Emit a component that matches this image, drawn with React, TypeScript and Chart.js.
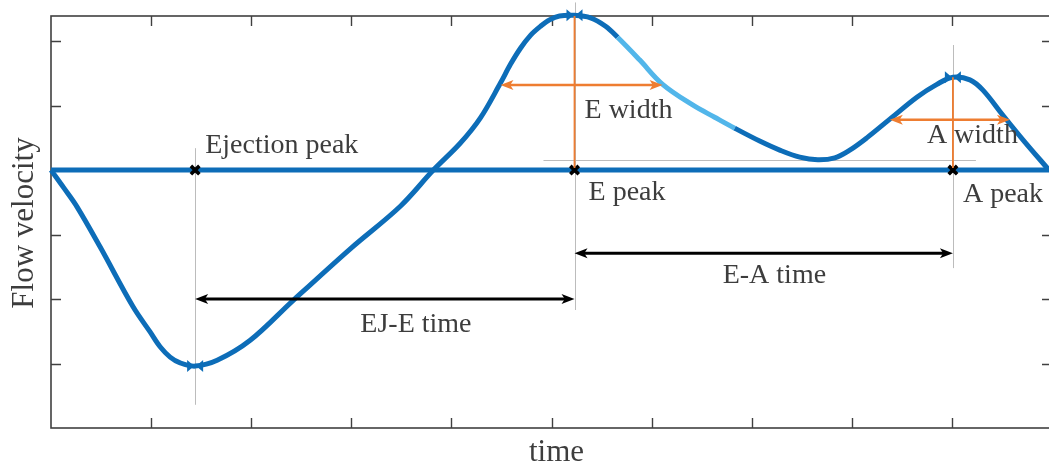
import React, { useEffect, useRef } from "react";
import { Chart, registerables } from "chart.js";

Chart.register(...registerables);

// ---- data (time in arbitrary units, flow velocity in arbitrary units) ----
const timeValues = [
  0, 0.13, 0.26, 0.49, 0.82, 0.99, 1.09, 1.19, 1.29, 1.44, 1.66, 1.99, 2.42, 2.99, 3.49, 3.82,
  4.09, 4.29, 4.49, 4.59, 4.69, 4.79, 4.89, 4.98, 5.08, 5.23, 5.39, 5.54, 5.66, 5.88, 6.11,
  6.41, 6.63, 6.83, 7.08, 7.28, 7.48, 7.66, 7.83, 7.98, 8.15, 8.38, 8.65, 8.85, 9.01, 9.18,
  9.31, 9.51, 9.71, 9.97,
];
const flowValues = [
  0, -0.28, -0.57, -1.19, -2.12, -2.51, -2.74, -2.9, -2.99, -3.04, -2.95, -2.64, -2.02, -1.22, -0.56, 0,
  0.42, 0.81, 1.35, 1.64, 1.89, 2.09, 2.23, 2.33, 2.39, 2.4, 2.36, 2.23, 2.06, 1.71, 1.33,
  1.01, 0.82, 0.65, 0.45, 0.31, 0.2, 0.16, 0.19, 0.31, 0.5, 0.79, 1.13, 1.33, 1.44, 1.4,
  1.24, 0.85, 0.47, 0,
];
const highlightRange = [5.66, 6.83];

const eventTimes = [1.44, 5.23, 9.01]; // ejection peak, E peak, A peak
const peakValues = [-3.04, 2.4, 1.44];

const xTicks = [1, 2, 3, 4, 5, 6, 7, 8, 9];
const yTicks = [-3, -2, -1, 0, 1, 2];

const eWidthSpan = [4.49, 6.11];
const eWidthLevel = 1.32;
const aWidthSpan = [8.38, 9.58];
const aWidthLevel = 0.78;
const ejeLevel = -2.0;
const eaLevel = -1.29;

const grayVTop = [0.34, 2.6, 1.94];
const grayVBottom = [-3.64, -2.17, -1.52];
const grayHLevel = 0.15;
const grayHSpan = [4.92, 9.24];

const labelTexts = ["Ejection peak", "E peak", "A peak", "E width", "A width", "EJ-E time", "E-A time"];
const labelX = [1.54, 5.37, 9.11, 5.33, 8.75, 3.09, 6.71];
const labelY = [0.26, -0.47, -0.5, 0.81, 0.42, -2.51, -1.75];

// ---- styles ----
const BLUE = "#0d6db8";
const LIGHT_BLUE = "#52b6ea";
const ORANGE = "#ee7d31";
const TEXT = "#3d3d3d";
const AXIS = "#404040";
const FONT = "'Liberation Serif', 'Times New Roman', serif";

function drawArrow(ctx: CanvasRenderingContext2D, x0: number, x1: number, y: number, color: string, lw: number, hl: number, hh: number) {
  ctx.save();
  ctx.strokeStyle = color;
  ctx.fillStyle = color;
  ctx.lineWidth = lw;
  ctx.beginPath();
  ctx.moveTo(x0 + hl * 0.7, y);
  ctx.lineTo(x1 - hl * 0.7, y);
  ctx.stroke();
  ctx.beginPath();
  ctx.moveTo(x0, y);
  ctx.lineTo(x0 + hl, y - hh);
  ctx.lineTo(x0 + hl * 0.75, y);
  ctx.lineTo(x0 + hl, y + hh);
  ctx.closePath();
  ctx.fill();
  ctx.beginPath();
  ctx.moveTo(x1, y);
  ctx.lineTo(x1 - hl, y - hh);
  ctx.lineTo(x1 - hl * 0.75, y);
  ctx.lineTo(x1 - hl, y + hh);
  ctx.closePath();
  ctx.fill();
  ctx.restore();
}

const annotationPlugin = {
  id: "annotations",
  beforeDatasetsDraw(chart: any) {
    const { ctx, chartArea: ca, scales } = chart;
    const xs = scales.x;
    const ys = scales.y;
    ctx.save();
    // frame
    ctx.strokeStyle = AXIS;
    ctx.lineWidth = 1.6;
    ctx.strokeRect(ca.left, ca.top, ca.right - ca.left, ca.bottom - ca.top);
    // inward ticks
    ctx.lineWidth = 1.4;
    ctx.beginPath();
    xTicks.forEach((t) => {
      const px = Math.round(xs.getPixelForValue(t)) + 0.5;
      ctx.moveTo(px, ca.bottom);
      ctx.lineTo(px, ca.bottom - 10);
      ctx.moveTo(px, ca.top);
      ctx.lineTo(px, ca.top + 10);
    });
    yTicks.forEach((t) => {
      const py = Math.round(ys.getPixelForValue(t)) + 0.5;
      ctx.moveTo(ca.left, py);
      ctx.lineTo(ca.left + 10, py);
      ctx.moveTo(ca.right, py);
      ctx.lineTo(ca.right - 10, py);
    });
    ctx.stroke();
    // gray guide lines
    ctx.strokeStyle = "#bcbcbc";
    ctx.lineWidth = 1;
    ctx.beginPath();
    eventTimes.forEach((t, i) => {
      const px = Math.round(xs.getPixelForValue(t)) + 0.5;
      ctx.moveTo(px, ys.getPixelForValue(grayVTop[i]));
      ctx.lineTo(px, ys.getPixelForValue(grayVBottom[i]));
    });
    const hy = Math.round(ys.getPixelForValue(grayHLevel)) + 0.5;
    ctx.moveTo(xs.getPixelForValue(grayHSpan[0]), hy);
    ctx.lineTo(xs.getPixelForValue(grayHSpan[1]), hy);
    ctx.stroke();
    ctx.restore();
  },
  afterDatasetsDraw(chart: any) {
    const { ctx, chartArea: ca, scales } = chart;
    const xs = scales.x;
    const ys = scales.y;
    ctx.save();
    // orange verticals from E and A peaks to baseline
    ctx.strokeStyle = ORANGE;
    ctx.lineWidth = 1.8;
    ctx.beginPath();
    [1, 2].forEach((i) => {
      const px = xs.getPixelForValue(eventTimes[i]);
      ctx.moveTo(px, Math.max(ys.getPixelForValue(peakValues[i]), ca.top));
      ctx.lineTo(px, ys.getPixelForValue(0) - 2);
    });
    ctx.stroke();
    // peak markers (blue bow ties)
    ctx.fillStyle = BLUE;
    eventTimes.forEach((t, i) => {
      const px = xs.getPixelForValue(t);
      const py = ys.getPixelForValue(peakValues[i]);
      ctx.beginPath();
      ctx.moveTo(px - 1, py);
      ctx.lineTo(px - 8, py - 6);
      ctx.lineTo(px - 8, py + 6);
      ctx.closePath();
      ctx.fill();
      ctx.beginPath();
      ctx.moveTo(px + 1, py);
      ctx.lineTo(px + 8, py - 6);
      ctx.lineTo(px + 8, py + 6);
      ctx.closePath();
      ctx.fill();
    });
    // width arrows
    drawArrow(ctx, xs.getPixelForValue(eWidthSpan[0]), xs.getPixelForValue(eWidthSpan[1]), ys.getPixelForValue(eWidthLevel), ORANGE, 2.4, 13, 5);
    drawArrow(ctx, xs.getPixelForValue(aWidthSpan[0]), xs.getPixelForValue(aWidthSpan[1]), ys.getPixelForValue(aWidthLevel), ORANGE, 2.4, 13, 5);
    // time arrows
    drawArrow(ctx, xs.getPixelForValue(eventTimes[0]), xs.getPixelForValue(eventTimes[1]), ys.getPixelForValue(ejeLevel), "#000", 3, 13, 5);
    drawArrow(ctx, xs.getPixelForValue(eventTimes[1]), xs.getPixelForValue(eventTimes[2]), ys.getPixelForValue(eaLevel), "#000", 3, 13, 5);
    // labels
    ctx.fillStyle = TEXT;
    ctx.font = `28px ${FONT}`;
    ctx.textAlign = "left";
    ctx.textBaseline = "alphabetic";
    labelTexts.forEach((s, i) => {
      ctx.fillText(s, xs.getPixelForValue(labelX[i]), ys.getPixelForValue(labelY[i]));
    });
    // axis titles
    ctx.font = `31px ${FONT}`;
    ctx.textAlign = "center";
    ctx.fillText("time", (ca.left + ca.right) / 2 + 5, ca.bottom + 33);
    ctx.save();
    ctx.translate(ca.left - 18, (ca.top + ca.bottom) / 2 + 1);
    ctx.rotate(-Math.PI / 2);
    ctx.fillText("Flow velocity", 0, 0);
    ctx.restore();
    ctx.restore();
  },
};

export default function App() {
  const ref = useRef<HTMLCanvasElement | null>(null);

  useEffect(() => {
    if (!ref.current) return;
    const curve = timeValues.map((t, i) => ({ x: t, y: flowValues[i] }));
    const baseline = [
      { x: 0, y: 0 },
      { x: timeValues[timeValues.length - 1], y: 0 },
    ];
    const crosses = eventTimes.map((t) => ({ x: t, y: 0 }));
    const chart = new Chart(ref.current, {
      type: "line",
      data: {
        datasets: [
          {
            label: "events",
            data: crosses,
            showLine: false,
            pointStyle: "crossRot",
            pointRadius: 6,
            pointBorderWidth: 3.6,
            borderColor: "#000",
            backgroundColor: "#000",
            order: 0,
          },
          {
            label: "flow",
            data: curve,
            borderColor: BLUE,
            borderWidth: 5,
            pointRadius: 0,
            tension: 0.35,
            clip: false as any,
            segment: {
              borderColor: (c: any) =>
                c.p0.parsed.x >= highlightRange[0] - 1e-6 && c.p1.parsed.x <= highlightRange[1] + 1e-6
                  ? LIGHT_BLUE
                  : undefined,
            },
            order: 1,
          },
          {
            label: "baseline",
            data: baseline,
            borderColor: BLUE,
            borderWidth: 5,
            pointRadius: 0,
            order: 2,
          },
        ],
      },
      options: {
        responsive: false,
        animation: false,
        devicePixelRatio: 1,
        layout: { autoPadding: false, padding: { left: 51, top: 16, right: 1, bottom: 38 } },
        plugins: { legend: { display: false }, tooltip: { enabled: false } },
        scales: {
          x: { type: "linear", min: 0, max: 10, display: false },
          y: { type: "linear", min: -4, max: 2.39, display: false },
        },
      },
      plugins: [annotationPlugin],
    });
    return () => chart.destroy();
  }, []);

  return (
    <div style={{ position: "fixed", left: 0, top: 0, width: 1049, height: 466, overflow: "hidden", background: "#fff" }}>
      <canvas ref={ref} width={1053} height={466} style={{ display: "block", width: 1053, height: 466 }} />
    </div>
  );
}
